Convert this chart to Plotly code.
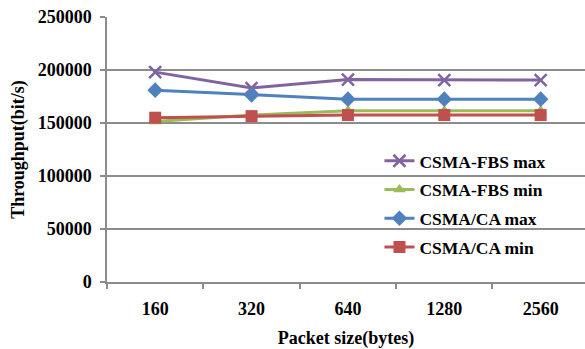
import plotly.graph_objects as go

categories = ["160", "320", "640", "1280", "2560"]
fbs_max = [198000, 183000, 191000, 190500, 190500]
fbs_min = [151500, 157500, 161500, 161500, 161500]
ca_max = [181000, 176500, 172500, 172500, 172500]
ca_min = [155000, 156500, 157500, 157500, 157500]

series = [
    ("CSMA-FBS max", fbs_max, "#8064A2", "x-thin-open", 12),
    ("CSMA-FBS min", fbs_min, "#9BBB59", "triangle-up", 11),
    ("CSMA/CA max", ca_max, "#4F81BD", "diamond", 12),
    ("CSMA/CA min", ca_min, "#C0504D", "square", 12),
]

fig = go.Figure()
for i, (name, vals, color, sym, size) in enumerate(series):
    fig.add_trace(go.Scatter(
        x=categories, y=vals, name=name, mode="lines+markers",
        line=dict(color=color, width=3),
        marker=dict(symbol=sym, size=size, color=color,
                    line=dict(color=color, width=2.5 if sym.startswith("x") else 0)),
        legendgroup=f"g{i}",
    ))

font_family = "Liberation Serif, Times New Roman, serif"
grid = "#8C8C8C"
fig.update_layout(
    width=585, height=349,
    margin=dict(l=107, r=0, t=17, b=67),
    paper_bgcolor="white", plot_bgcolor="white",
    font=dict(family=font_family, size=18, color="black"),
    showlegend=True,
    legend=dict(
        x=0.57, y=0.525, xanchor="left", yanchor="top",
        bgcolor="rgba(0,0,0,0)", traceorder="grouped", tracegroupgap=3,
        font=dict(family=font_family, size=17.5, color="black", weight="bold"),
        itemwidth=30,
    ),
    xaxis=dict(
        type="category", range=[-0.5, 4.46],
        showline=True, linecolor=grid, linewidth=1.5,
        ticks="outside", ticklen=5, tickcolor=grid, tickwidth=1.5,
        tickson="boundaries", showgrid=False, zeroline=False,
        tickfont=dict(family=font_family, size=18, weight="bold"),
        ticklabelstandoff=10,
        title=dict(text="Packet size(bytes)", standoff=14,
                   font=dict(family=font_family, size=18, weight="bold")),
    ),
    yaxis=dict(
        range=[0, 250000], dtick=50000,
        showline=True, linecolor=grid, linewidth=1.5,
        ticks="outside", ticklen=5, tickcolor=grid, tickwidth=1.5,
        showgrid=True, gridcolor=grid, gridwidth=1.5, zeroline=False,
        tickformat="d",
        tickfont=dict(family=font_family, size=18, weight="bold"),
        ticklabelstandoff=5,
        title=dict(text="Throughput(bit/s)", standoff=8,
                   font=dict(family=font_family, size=18, weight="bold")),
    ),
)

fig.write_html("out.html")
